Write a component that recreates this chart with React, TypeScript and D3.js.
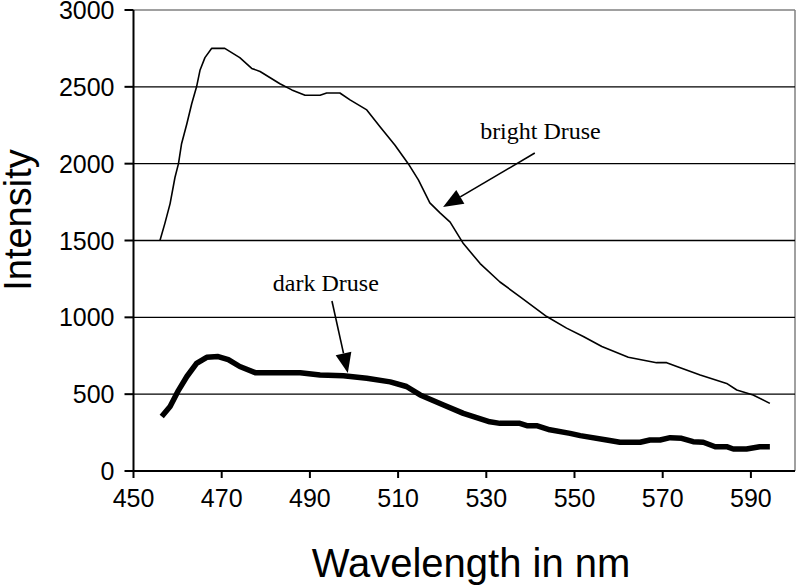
import React from "react";
import * as d3 from "d3";

const yTicks = [0, 500, 1000, 1500, 2000, 2500, 3000];
const xTicks = [450, 470, 490, 510, 530, 550, 570, 590];

const brightWl = [456, 457.1, 458.3, 459.4, 460.2, 460.9, 462.1, 463.2, 464.3, 465.1, 466.2, 467.7, 470.7, 474.1, 476.8, 478.7, 483.2, 485.9, 488.9, 492.3, 493.8, 496.8, 499.1, 502.9, 505.9, 509.3, 512.3, 514.6, 517.2, 519.5, 521.8, 524.8, 528.6, 533.1, 537.6, 543.7, 548.2, 552.0, 556.2, 562.2, 568.6, 570.9, 573.2, 578.5, 584.5, 586.8, 590.5, 594.3];
const brightInt = [1500, 1610, 1740, 1910, 2000, 2130, 2260, 2390, 2500, 2610, 2690, 2750, 2750, 2690, 2620, 2600, 2520, 2480, 2445, 2445, 2460, 2460, 2415, 2350, 2240, 2120, 2000, 1895, 1745, 1680, 1620, 1480, 1350, 1230, 1135, 1005, 930, 875, 810, 740, 705, 705, 680, 625, 570, 527, 495, 440];

const darkWl = [456.4, 458.3, 460.2, 462.1, 464.3, 466.6, 469.2, 471.5, 474.1, 477.6, 487.8, 492.3, 497.6, 502.9, 508.2, 511.9, 515.0, 520.3, 524.8, 530.8, 533.1, 537.6, 539.2, 541.4, 544.4, 549.0, 551.3, 557.3, 560.3, 564.9, 567.1, 569.4, 571.7, 574.3, 576.9, 579.2, 581.9, 584.5, 586.0, 589.0, 592.0, 594.3];
const darkInt = [355, 420, 525, 615, 700, 740, 745, 725, 680, 640, 640, 625, 620, 603, 580, 550, 495, 430, 375, 320, 310, 310, 295, 295, 268, 245, 230, 202, 187, 187, 202, 202, 217, 213, 191, 187, 158, 158, 143, 143, 158, 158];

const W = 797;
const H = 586;
const left = 133.5;
const right = 795;
const top = 10;
const bottom = 471;

function Arrow({ x1, y1, x2, y2, len, half }: { x1: number; y1: number; x2: number; y2: number; len: number; half: number }) {
  const dx = x2 - x1;
  const dy = y2 - y1;
  const L = Math.hypot(dx, dy);
  const ux = dx / L;
  const uy = dy / L;
  const bx = x2 - ux * len;
  const by = y2 - uy * len;
  const px = -uy;
  const py = ux;
  const pts = `${x2},${y2} ${bx + px * half},${by + py * half} ${bx - px * half},${by - py * half}`;
  return (
    <g>
      <line x1={x1} y1={y1} x2={bx} y2={by} stroke="#000" strokeWidth={1.6} />
      <polygon points={pts} fill="#000" />
    </g>
  );
}

export default function App() {
  const x = d3.scaleLinear().domain([450, 600]).range([left, right]);
  const y = d3.scaleLinear().domain([0, 3000]).range([bottom, top]);
  const line = d3
    .line<[number, number]>()
    .x((d) => x(d[0]))
    .y((d) => y(d[1]));
  const bright = brightWl.map((w, i) => [w, brightInt[i]] as [number, number]);
  const dark = darkWl.map((w, i) => [w, darkInt[i]] as [number, number]);

  return (
    <svg width={W} height={H} style={{ position: "absolute", left: 0, top: 0, background: "#fff" }}>
      <rect x={0} y={0} width={W} height={H} fill="#fff" />
      {/* plot border */}
      <line x1={left} x2={right} y1={y(3000)} y2={y(3000)} stroke="#808080" strokeWidth={1.5} />
      <line x1={right} x2={right} y1={y(3000)} y2={y(0)} stroke="#808080" strokeWidth={1.5} />
      {/* gridlines */}
      {yTicks
        .filter((t) => t > 0 && t < 3000)
        .map((t) => (
          <line key={t} x1={left} x2={right} y1={y(t)} y2={y(t)} stroke="#000" strokeWidth={1.4} />
        ))}
      {/* series */}
      <path d={line(bright) || ""} fill="none" stroke="#000" strokeWidth={1.6} strokeLinejoin="round" />
      <path d={line(dark) || ""} fill="none" stroke="#000" strokeWidth={5.5} strokeLinejoin="round" />
      {/* axes */}
      <line x1={left} x2={left} y1={y(3000)} y2={y(0)} stroke="#000" strokeWidth={2} />
      <line x1={left} x2={right} y1={y(0)} y2={y(0)} stroke="#000" strokeWidth={2} />
      {yTicks.map((t) => (
        <g key={t}>
          <line x1={left - 9} x2={left} y1={y(t)} y2={y(t)} stroke="#000" strokeWidth={2} />
          <text
            x={left - 19}
            y={y(t)}
            dy="0.36em"
            textAnchor="end"
            fontFamily="Liberation Sans, Arial, sans-serif"
            fontSize={25}
          >
            {t}
          </text>
        </g>
      ))}
      {xTicks.map((t) => (
        <g key={t}>
          <line x1={x(t)} x2={x(t)} y1={y(0)} y2={y(0) + 7} stroke="#000" strokeWidth={2} />
          <text
            x={x(t)}
            y={y(0) + 36}
            textAnchor="middle"
            fontFamily="Liberation Sans, Arial, sans-serif"
            fontSize={25}
          >
            {t}
          </text>
        </g>
      ))}
      <text
        x={471}
        y={577}
        textAnchor="middle"
        fontFamily="Liberation Sans, Arial, sans-serif"
        fontSize={40}
      >
        Wavelength in nm
      </text>
      <text
        transform={`translate(31, 220) rotate(-90)`}
        textAnchor="middle"
        fontFamily="Liberation Sans, Arial, sans-serif"
        fontSize={38}
      >
        Intensity
      </text>
      {/* annotations */}
      <text x={x(528.6)} y={y(2160)} fontFamily="Liberation Serif, Times New Roman, serif" fontSize={24}>
        bright Druse
      </text>
      <Arrow x1={x(541.0)} y1={y(2069)} x2={x(520.2)} y2={y(1718)} len={20} half={8} />
      <text x={x(481.6)} y={y(1171)} fontFamily="Liberation Serif, Times New Roman, serif" fontSize={24}>
        dark Druse
      </text>
      <Arrow x1={x(495.0)} y1={y(1106)} x2={x(498.6)} y2={y(638)} len={20} half={8} />
    </svg>
  );
}
